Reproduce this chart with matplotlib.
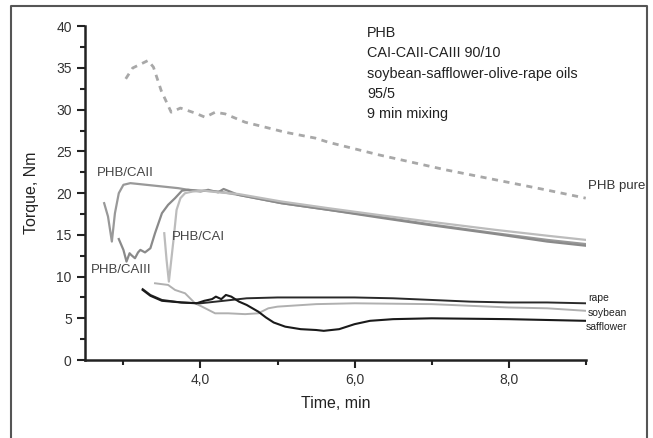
import numpy as np
import matplotlib
matplotlib.use("Agg")
import matplotlib.pyplot as plt
from matplotlib.lines import Line2D
from matplotlib.ticker import MultipleLocator, FixedLocator

plt.rcParams['font.family'] = ['Liberation Sans', 'DejaVu Sans']

# PHB pure (dashed)
t_pure = [3.03, 3.12, 3.32, 3.39, 3.49, 3.62, 3.74, 3.93, 4.06, 4.19, 4.32, 4.58, 4.80,
          5.10, 5.49, 5.66, 6.31, 7.18, 7.83, 8.48, 9.00]
T_pure = [33.7, 35.0, 35.9, 35.1, 32.3, 29.7, 30.2, 29.6, 29.1, 29.7, 29.5, 28.5, 28.0,
          27.3, 26.6, 26.1, 24.6, 22.8, 21.6, 20.4, 19.4]

# PHB/CAII
t_caii = [2.75, 2.80, 2.85, 2.89, 2.94, 3.00, 3.09, 3.40, 3.71, 3.84, 4.00, 4.23, 4.49,
          5.05, 5.66, 6.30, 6.96, 7.83, 8.50, 9.00]
T_caii = [18.8, 17.2, 14.2, 17.6, 20.0, 21.0, 21.2, 20.9, 20.6, 20.4, 20.3, 20.2, 19.8,
          18.8, 18.0, 17.2, 16.3, 15.2, 14.4, 13.9]

# PHB/CAIII
t_caiii = [2.94, 3.00, 3.04, 3.08, 3.10, 3.15, 3.19, 3.22, 3.28, 3.35, 3.41, 3.50, 3.58,
           3.67, 3.76, 3.84, 4.00, 4.10, 4.23, 4.30, 4.49, 5.05, 5.66, 6.30, 6.96, 7.83,
           8.50, 9.00]
T_caiii = [14.5, 13.2, 11.8, 12.8, 12.6, 12.2, 12.9, 13.2, 12.9, 13.4, 15.2, 17.6, 18.6,
           19.4, 20.3, 20.4, 20.2, 20.4, 20.1, 20.5, 19.8, 18.8, 18.0, 17.1, 16.2, 15.1,
           14.2, 13.7]

# PHB/CAI
t_cai = [3.53, 3.56, 3.59, 3.65, 3.69, 3.74, 3.80, 3.90, 4.05, 4.23, 4.49, 5.05, 5.66,
         6.30, 6.96, 7.83, 8.50, 9.00]
T_cai = [15.2, 12.0, 9.4, 14.4, 18.0, 19.4, 20.0, 20.2, 20.3, 20.1, 19.9, 19.0, 18.2,
         17.4, 16.6, 15.6, 14.9, 14.4]

# oils
t_rape = [3.25, 3.35, 3.50, 3.75, 4.00, 4.30, 4.60, 5.00, 5.50, 6.00, 6.50, 7.00, 7.50,
          8.00, 8.50, 9.00]
T_rape = [8.5, 7.8, 7.2, 6.9, 6.8, 7.1, 7.4, 7.5, 7.5, 7.5, 7.4, 7.2, 7.0, 6.9, 6.9, 6.8]

t_saff = [3.25, 3.35, 3.50, 3.75, 3.95, 4.05, 4.15, 4.20, 4.27, 4.33, 4.40, 4.50, 4.60,
          4.75, 4.85, 4.95, 5.10, 5.30, 5.50, 5.60, 5.80, 6.00, 6.20, 6.50, 7.00, 8.00, 9.00]
T_saff = [8.4, 7.7, 7.1, 6.9, 6.8, 7.1, 7.3, 7.6, 7.3, 7.8, 7.6, 7.0, 6.6, 5.8, 5.1, 4.5,
          4.0, 3.7, 3.6, 3.5, 3.7, 4.3, 4.7, 4.9, 5.0, 4.9, 4.7]

t_soy = [3.41, 3.58, 3.67, 3.80, 3.93, 4.02, 4.19, 4.36, 4.58, 4.75, 4.88, 5.00, 5.50,
         6.00, 7.00, 8.00, 8.50, 9.00]
T_soy = [9.2, 9.0, 8.4, 8.0, 6.8, 6.4, 5.6, 5.6, 5.5, 5.6, 6.2, 6.4, 6.7, 6.8, 6.7, 6.3,
         6.2, 5.9]

fig = plt.figure(figsize=(6.53, 4.38), dpi=100)
ax = fig.add_axes([0.130, 0.178, 0.767, 0.762])

ax.plot(t_pure, T_pure, color="#a8a8a8", lw=2.0, ls=(0, (2.2, 2.0)))
ax.plot(t_caii, T_caii, color="#999999", lw=1.6)
ax.plot(t_caiii, T_caiii, color="#8a8a8a", lw=1.6)
ax.plot(t_cai, T_cai, color="#bcbcbc", lw=1.6)
ax.plot(t_soy, T_soy, color="#b0b0b0", lw=1.4)
ax.plot(t_rape, T_rape, color="#2a2a2a", lw=1.4)
ax.plot(t_saff, T_saff, color="#1a1a1a", lw=1.5)

ax.text(9.03, 20.8, "PHB pure", fontsize=9.5, color="#333333", va="center", clip_on=False)
ax.text(2.65, 22.4, "PHB/CAII", fontsize=9.5, color="#444444", va="center")
ax.text(3.63, 14.8, "PHB/CAI", fontsize=9.5, color="#444444", va="center")
ax.text(2.58, 10.8, "PHB/CAIII", fontsize=9.5, color="#444444", va="center")
ax.text(9.03, 7.4, "rape", fontsize=7.5, color="#222222", va="center", clip_on=False)
ax.text(9.03, 5.6, "soybean", fontsize=7.5, color="#222222", va="center", clip_on=False)
ax.text(9.0, 3.9, "safflower", fontsize=7.5, color="#222222", va="center", clip_on=False)

notes = ["PHB", "CAI-CAII-CAIII 90/10", "soybean-safflower-olive-rape oils", "95/5",
         "9 min mixing"]
for i, s in enumerate(notes):
    fig.text(0.562, 1 - (33 + 20.3 * i) / 438, s, fontsize=10.4, color="#222222", va="center")

ax.set_xlim(2.5, 9.0)
ax.set_ylim(0, 40)
ax.xaxis.set_major_locator(FixedLocator([4, 6, 8]))
ax.xaxis.set_minor_locator(FixedLocator([3, 5, 7, 9]))
ax.set_xticklabels(["4,0", "6,0", "8,0"])
ax.yaxis.set_major_locator(MultipleLocator(5))
ax.yaxis.set_minor_locator(MultipleLocator(2.5))

for side in ["top", "right"]:
    ax.spines[side].set_visible(False)
for side in ["left", "bottom"]:
    ax.spines[side].set_linewidth(1.8)
    ax.spines[side].set_color("#222222")
ax.tick_params(which="major", direction="out", length=6, width=1.5, color="#222222",
               labelsize=10, labelcolor="#333333")
ax.tick_params(which="minor", direction="out", length=3.5, width=1.5, color="#222222")

ax.set_xlabel("Time, min", fontsize=11.5, color="#222222", labelpad=6)
ax.set_ylabel("Torque, Nm", fontsize=11.5, color="#222222", labelpad=12)

# outer frame (left, top, right)
fx = [11 / 653, 11 / 653, 647 / 653, 647 / 653]
fy = [0.0, 1 - 6 / 438, 1 - 6 / 438, 0.0]
fig.add_artist(Line2D(fx, fy, transform=fig.transFigure, color="#555555", lw=1.5))

fig.savefig("out.png", dpi=100)
